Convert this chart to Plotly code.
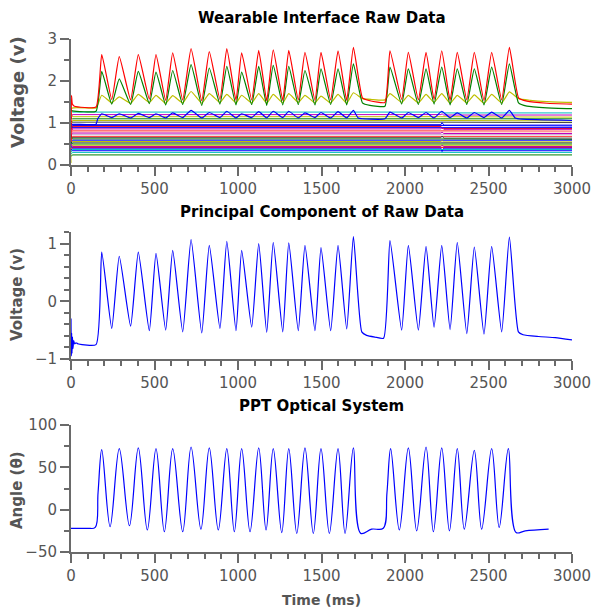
import plotly.graph_objects as go

# ---------------- shared burst timing (ms) ----------------
peak_t = [184, 289, 403, 509, 609, 719, 828, 933, 1022, 1124, 1211, 1304, 1401, 1497, 1599, 1691,
          1910, 2020, 2126, 2220, 2313, 2415, 2519, 2625]
trough_t = [244, 357, 469, 567, 669, 783, 892, 988, 1082, 1172, 1268, 1361, 1461, 1555, 1651,
            1980, 2080, 2174, 2270, 2370, 2473, 2579]

# ---------------- top panel: oscillating raw channels ----------------
red_pk = [2.63, 2.58, 2.63, 2.63, 2.67, 2.77, 2.70, 2.77, 2.67, 2.73, 2.74, 2.73, 2.68, 2.68, 2.72, 2.80,
          2.72, 2.68, 2.68, 2.72, 2.68, 2.68, 2.68, 2.80]
red_tr = [1.56, 1.55, 1.57, 1.54, 1.55, 1.53, 1.56, 1.54, 1.55, 1.53, 1.54, 1.55, 1.54, 1.55, 1.54,
          1.56, 1.55, 1.56, 1.54, 1.55, 1.54, 1.55]
red_pre = [(0, 0.55), (3, 1.66), (8, 1.45), (20, 1.40), (150, 1.38)]
red_gap = [(1745, 1.60), (1790, 1.53), (1880, 1.49)]
red_post = [(2680, 1.60), (2730, 1.52), (2850, 1.47), (3000, 1.45)]

green_pk = [2.23, 2.05, 2.23, 2.21, 2.25, 2.39, 2.31, 2.35, 2.21, 2.35, 2.37, 2.35, 2.25, 2.29, 2.29, 2.41,
            2.33, 2.29, 2.29, 2.33, 2.29, 2.29, 2.33, 2.41]
green_tr = [1.45, 1.44, 1.46, 1.43, 1.44, 1.42, 1.45, 1.43, 1.44, 1.42, 1.43, 1.44, 1.43, 1.44, 1.43,
            1.45, 1.44, 1.45, 1.43, 1.44, 1.43, 1.44]
green_pre = [(0, 1.30), (8, 1.29), (150, 1.28)]
green_gap = [(1745, 1.48), (1790, 1.42), (1880, 1.40)]
green_post = [(2680, 1.48), (2730, 1.40), (2850, 1.36), (3000, 1.34)]

yellow_pk = [1.66, 1.62, 1.68, 1.66, 1.65, 1.75, 1.70, 1.68, 1.66, 1.70, 1.68, 1.70, 1.66, 1.64, 1.68, 1.72,
             1.70, 1.66, 1.68, 1.70, 1.66, 1.67, 1.68, 1.74]
yellow_tr = [1.48, 1.47, 1.49, 1.47, 1.48, 1.47, 1.49, 1.48, 1.48, 1.47, 1.48, 1.49, 1.48, 1.48, 1.47,
             1.49, 1.48, 1.49, 1.47, 1.48, 1.47, 1.48]
yellow_pre = [(0, 0.05), (4, 1.35), (150, 1.36)]
yellow_gap = [(1745, 1.58), (1800, 1.56), (1880, 1.55)]
yellow_post = [(2680, 1.58), (2750, 1.54), (2850, 1.51), (3000, 1.49)]

blue_pk = [1.22, 1.22, 1.23, 1.22, 1.24, 1.30, 1.25, 1.28, 1.22, 1.27, 1.28, 1.28, 1.24, 1.25, 1.27, 1.30,
           1.26, 1.25, 1.25, 1.28, 1.24, 1.25, 1.26, 1.30]
blue_tr = [1.13, 1.12, 1.13, 1.12, 1.13, 1.12, 1.13, 1.12, 1.13, 1.12, 1.13, 1.12, 1.13, 1.12, 1.12,
           1.12, 1.13, 1.12, 1.13, 1.12, 1.13, 1.12]
blue_pre = [(0, 0.95), (10, 0.97), (150, 0.97), (160, 1.10)]
blue_gap = [(1720, 1.12), (1880, 1.10)]
blue_post = [(2660, 1.12), (2700, 1.09), (3000, 1.06)]

# ---------------- top panel: quasi-flat raw channels ----------------
flat_levels = [1.26, 1.20, 1.15, 1.10, 1.06, 1.02, 0.96, 0.94, 0.92, 0.89, 0.86, 0.82, 0.79, 0.76, 0.72,
               0.68, 0.65, 0.62, 0.59, 0.56, 0.53, 0.50, 0.47, 0.44, 0.42, 0.40, 0.37, 0.34, 0.30, 0.24]
flat_start = [1.30, 1.10, 1.25, 1.12, 0.90, 1.05, 1.00, 0.85, 0.60, 0.95, 0.80, 0.75, 0.85, 0.70, 0.80,
              0.55, 0.70, 0.66, 0.50, 0.60, 0.45, 0.55, 0.40, 0.50, 0.35, 0.45, 0.30, 0.38, 0.25, 0.20]
flat_end = [1.24, 1.19, 1.14, 1.10, 1.05, 1.01, 0.95, 0.93, 0.87, 0.89, 0.85, 0.81, 0.79, 0.75, 0.72,
            0.68, 0.64, 0.61, 0.59, 0.55, 0.53, 0.50, 0.47, 0.44, 0.42, 0.40, 0.37, 0.34, 0.30, 0.24]
flat_glitch = [0.00, 0.02, 0.00, 0.00, 0.00, 0.00, 0.05, 0.00, -0.05, 0.00, 0.03, 0.00, 0.00, 0.02, 0.00,
               0.00, 0.04, 0.00, 0.00, 0.02, 0.00, 0.00, 0.00, 0.03, 0.00, -0.08, 0.00, 0.00, 0.00, 0.00]
flat_colors = ["#00BFBF", "#BF00BF", "#BFBF00", "#008000", "#BFBF00", "#404040", "#0000FF", "#0000FF",
               "#FF0000", "#0000FF", "#BF00BF", "#FF7070", "#FF8080", "#BF00BF", "#C0A0C0",
               "#FF4040", "#404040", "#008000", "#0000FF", "#BFBF00", "#606060", "#008000", "#BFBF00",
               "#BF00BF", "#FF0000", "#0000FF", "#00BFBF", "#0000FF", "#00BFBF", "#008000"]

# ---------------- middle panel: principal component ----------------
pca_pk = [0.85, 0.78, 0.85, 0.83, 0.88, 1.07, 0.97, 1.04, 0.88, 1.00, 1.02, 1.01, 0.97, 0.93, 0.97, 1.12,
          1.05, 0.97, 0.95, 0.97, 1.02, 0.94, 0.95, 1.11]
pca_tr = [-0.47, -0.43, -0.51, -0.50, -0.53, -0.55, -0.47, -0.51, -0.45, -0.54, -0.53, -0.51, -0.51, -0.51,
          -0.48, -0.50, -0.50, -0.45, -0.49, -0.56, -0.57, -0.53]
pca_pre = [(0, -0.30), (2, -0.95), (4, -0.55), (6, -0.90), (9, -0.62), (12, -0.82), (16, -0.68),
           (22, -0.74), (30, -0.72), (45, -0.74), (150, -0.75)]
pca_gap = [(1741, -0.53), (1770, -0.59), (1820, -0.62), (1872, -0.64)]
pca_post = [(2679, -0.53), (2707, -0.58), (2800, -0.61), (2900, -0.63), (3000, -0.67)]

# ---------------- bottom panel: PPT optical system ----------------
ppt_pk_t = [184, 289, 403, 509, 609, 719, 828, 933, 1022, 1124, 1211, 1304, 1401, 1497, 1599, 1691,
            1914, 2020, 2126, 2220, 2313, 2415, 2519, 2619]
ppt_pk = [71, 72, 73, 72, 72, 74, 73, 72, 72, 73, 72, 72, 73, 72, 72, 73,
          72, 73, 74, 73, 72, 70, 72, 72]
ppt_tr_t = [234, 350, 457, 559, 669, 778, 882, 978, 1072, 1168, 1262, 1352, 1451, 1547, 1641,
            1966, 2070, 2170, 2266, 2355, 2459, 2564]
ppt_tr = [-20, -19, -24, -26, -26, -23, -24, -26, -26, -24, -27, -28, -28, -28, -28,
          -24, -25, -26, -25, -23, -23, -21]
ppt_pre = [(0, -22), (100, -22), (145, -21), (162, 20)]
ppt_gap = [(1735, -28), (1800, -23), (1870, -22), (1892, 20)]
ppt_post = [(2665, -27), (2720, -25), (2860, -23)]


def assemble(pre, pk_t, pk_v, tr_t, tr_v, gap, post):
    pts = list(pre) + list(zip(pk_t, pk_v)) + list(zip(tr_t, tr_v)) + list(gap) + list(post)
    pts.sort(key=lambda p: p[0])
    return [p[0] for p in pts], [p[1] for p in pts]


fig = go.Figure()

# flat channels (top)
for lvl, st, en, gl, col in zip(flat_levels, flat_start, flat_end, flat_glitch, flat_colors):
    xs = [0, 8, 2215, 2222, 2232, 3000]
    ys = [st, lvl, lvl, lvl + gl, en, en]
    fig.add_trace(go.Scatter(x=xs, y=ys, mode="lines", line=dict(color=col, width=1.0),
                             xaxis="x", yaxis="y", showlegend=False, hoverinfo="skip"))

for pre, pk, tr, gap, post, col in [
    (blue_pre, blue_pk, blue_tr, blue_gap, blue_post, "#0000FF"),
    (yellow_pre, yellow_pk, yellow_tr, yellow_gap, yellow_post, "#BFBF00"),
    (green_pre, green_pk, green_tr, green_gap, green_post, "#008000"),
    (red_pre, red_pk, red_tr, red_gap, red_post, "#FF0000"),
]:
    xs, ys = assemble(pre, peak_t, pk, trough_t, tr, gap, post)
    fig.add_trace(go.Scatter(x=xs, y=ys, mode="lines",
                             line=dict(color=col, width=1.2, shape="spline", smoothing=0.4),
                             xaxis="x", yaxis="y", showlegend=False))

xs, ys = assemble(pca_pre, peak_t, pca_pk, trough_t, pca_tr, pca_gap, pca_post)
fig.add_trace(go.Scatter(x=xs, y=ys, mode="lines",
                         line=dict(color="#0000FF", width=1.2, shape="spline", smoothing=0.5),
                         xaxis="x2", yaxis="y2", showlegend=False))

xs, ys = assemble(ppt_pre, ppt_pk_t, ppt_pk, ppt_tr_t, ppt_tr, ppt_gap, ppt_post)
fig.add_trace(go.Scatter(x=xs, y=ys, mode="lines",
                         line=dict(color="#0000FF", width=1.2, shape="spline", smoothing=1.0),
                         xaxis="x3", yaxis="y3", showlegend=False))

AX = "#6a6a6a"
TF = dict(family="DejaVu Sans", size=15, color="#555555")


def xax(anchor):
    return dict(range=[0, 3000], dtick=500, tick0=0, showgrid=False, zeroline=False, showline=True,
                linecolor=AX, linewidth=2, ticks="outside", ticklen=9, tickwidth=2, tickcolor=AX,
                tickfont=TF, anchor=anchor, automargin=False, ticklabeloverflow="allow",
                minor=dict(dtick=100, tick0=0, ticks="outside", ticklen=5, tickwidth=1.5, tickcolor=AX))


def yax(rng, dt, mdt, dom, anchor):
    return dict(range=rng, dtick=dt, tick0=0, domain=dom, showgrid=False, zeroline=False, showline=True,
                linecolor=AX, linewidth=2, ticks="outside", ticklen=9, tickwidth=2, tickcolor=AX,
                tickfont=TF, anchor=anchor, automargin=False,
                minor=dict(dtick=mdt, tick0=0, ticks="outside", ticklen=5, tickwidth=1.5, tickcolor=AX))


H = 615
L, R, T, B = 71, 23, 39, 63
ph = H - T - B


def dom(top_px, bot_px):
    return [(H - B - bot_px) / ph, (H - B - top_px) / ph]


d1 = dom(39, 165)
d2 = dom(232, 359)
d3 = dom(425, 552)

fig.update_layout(
    width=595, height=615, margin=dict(l=L, r=R, t=T, b=B), autosize=False,
    paper_bgcolor="white", plot_bgcolor="white",
    xaxis=xax("y"), yaxis=yax([0, 3], 1, 0.5, d1, "x"),
    xaxis2=xax("y2"), yaxis2=yax([-1, 1.2], 1, 0.2, d2, "x2"),
    xaxis3=xax("y3"), yaxis3=yax([-50, 100], 50, 25, d3, "x3"),
)


def ypaper(px):
    return (H - B - px) / ph


ann = []
for txt, py in [("Wearable Interface Raw Data", 18), ("Principal Component of Raw Data", 212),
                ("PPT Optical System", 406)]:
    ann.append(dict(text=txt, x=0.5, y=ypaper(py), xref="paper", yref="paper", xanchor="center",
                    yanchor="middle", showarrow=False,
                    font=dict(family="DejaVu Sans", size=15, color="black", weight="bold")))
for txt, py, fs in [("Voltage (v)", 92, 18), ("Voltage (v)", 295, 15), ("Angle (θ)", 490, 15)]:
    ann.append(dict(text=txt, x=0, y=ypaper(py), xref="paper", yref="paper", xanchor="center",
                    yanchor="middle", xshift=17 - L, textangle=-90, showarrow=False,
                    font=dict(family="DejaVu Sans", size=fs, color="#555555", weight="bold")))
ann.append(dict(text="Time (ms)", x=0.5, y=ypaper(600), xref="paper", yref="paper", xanchor="center",
                yanchor="middle", showarrow=False,
                font=dict(family="DejaVu Sans", size=14, color="#555555", weight="bold")))
fig.update_layout(annotations=ann)

fig.write_html("out.html")
